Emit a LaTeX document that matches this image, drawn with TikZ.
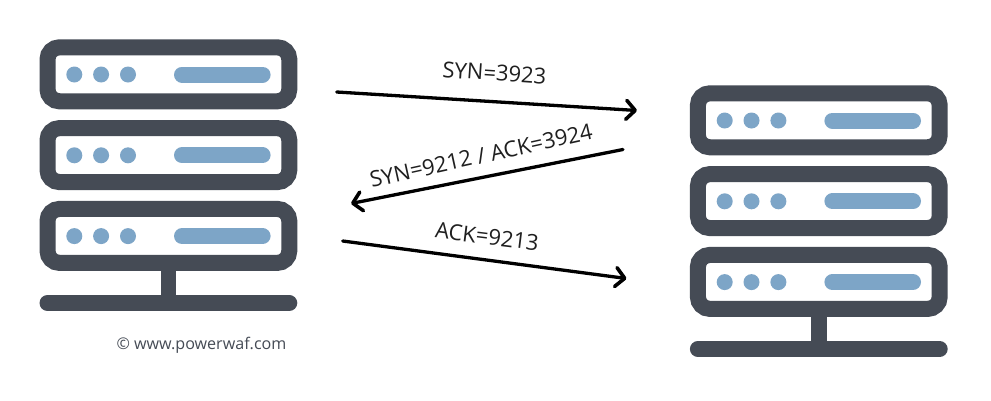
\documentclass[tikz,border=0pt]{standalone}
\usepackage{fontspec}
\setmainfont{Open Sans}
\usetikzlibrary{arrows.meta}
\definecolor{srvdark}{HTML}{454B55}
\definecolor{srvblue}{HTML}{7DA5C7}
\definecolor{txtdark}{HTML}{1F1F1F}
\tikzset{
  unitframe/.style={draw=srvdark,line width=16pt,fill=white,rounded corners=12pt},
  ledstyle/.style={fill=srvblue},
  barstyle/.style={draw=srvblue,line width=16pt,line cap=round},
  basestyle/.style={draw=srvdark,line width=16pt,line cap=round},
  stemstyle/.style={draw=srvdark,line width=15.6pt},
  flow/.style={draw=black,line width=3.3pt,line cap=round,-{Straight Barb[length=9pt,width=19pt,line width=3.6pt,round]}},
  flowlabel/.style={font=\fontsize{22}{26}\selectfont,text=txtdark,inner sep=0pt},
  creditlabel/.style={font=\fontsize{16.1}{19}\selectfont,text=srvdark,inner sep=0pt},
  pics/serverunit/.style={code={
    \draw[unitframe] (47.5,-47.3) rectangle (289.3,-101.3);
    \fill[ledstyle] (74.3,-74.5) circle[radius=8];
    \fill[ledstyle] (101.1,-74.5) circle[radius=8];
    \fill[ledstyle] (128,-74.5) circle[radius=8];
    \draw[barstyle] (182,-74.5) -- (262.6,-74.5);
  }},
  pics/serverrack/.style={code={
    \pic at (0,0) {serverunit};
    \pic at (0,-80.8) {serverunit};
    \pic at (0,-161.6) {serverunit};
    \draw[stemstyle] (168.5,-255.5) -- (168.5,-303);
    \draw[basestyle] (47.5,-303) -- (289.3,-303);
  }}
}
\begin{document}
\begin{tikzpicture}[x=1pt,y=1pt]
  \useasboundingbox (0,0) rectangle (991,-400);
  \fill[white] (0,0) rectangle (991,-400);
  \pic (client) at (0,0) {serverrack};
  \pic (server) at (650.4,-46) {serverrack};
  \coordinate (a1) at (336.7,-92);
  \coordinate (b1) at (637,-110.5);
  \coordinate (a2) at (623,-149.5);
  \coordinate (b2) at (351,-203.5);
  \coordinate (a3) at (342.7,-241);
  \coordinate (b3) at (626.5,-278.5);
  \draw[flow] (a1) -- (b1);
  \draw[flow] (a2) -- (b2);
  \draw[flow] (a3) -- (b3);
  \node[flowlabel,rotate=-4] (l1) at (494.5,-73) {SYN=3923};
  \node[flowlabel,rotate=12.5] (l2) at (481,-155.5) {SYN=9212 / ACK=3924};
  \node[flowlabel,rotate=-7] (l3) at (487,-236.5) {ACK=9213};
  \node[creditlabel] (credit) at (201.5,-345) {© www.powerwaf.com};
\end{tikzpicture}
\end{document}
